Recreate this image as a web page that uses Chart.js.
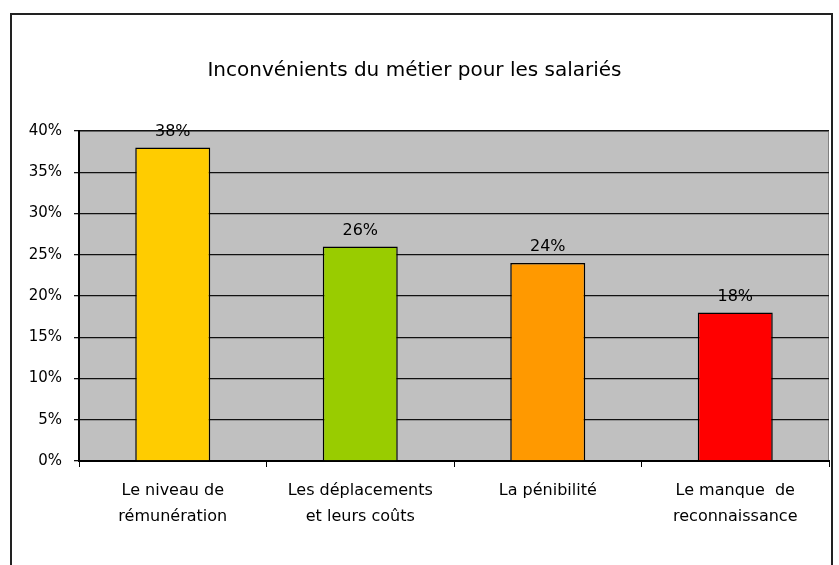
<!DOCTYPE html>
<html>
<head>
<meta charset="utf-8">
<script src="https://cdn.jsdelivr.net/npm/chart.js@4/dist/chart.umd.min.js"></script>
<style>
  html, body { margin: 0; padding: 0; background: #fff; }
  #wrap { width: 839px; height: 565px; }
</style>
</head>
<body>
<div id="wrap"><canvas id="myChart" width="839" height="565"></canvas></div>
<script>
// Chart data
var titleText = 'Inconvénients du métier pour les salariés';
var categories = [
    ['Le niveau de', 'rémunération'],
    ['Les déplacements', 'et leurs coûts'],
    ['La pénibilité'],
    ['Le manque  de', 'reconnaissance']
];
var values = [38, 26, 24, 18];
var barColors = ['#FFCC00', '#99CC00', '#FF9900', '#FF0000'];
var yTicks = [0, 5, 10, 15, 20, 25, 30, 35, 40];

var fontFamily = '"DejaVu Sans", sans-serif';

// Outer frame + grey plot area
var framePlugin = {
    id: 'frame',
    beforeDraw: function(chart) {
        var ctx = chart.ctx;
        var a = chart.chartArea;
        ctx.save();
        ctx.fillStyle = '#fff';
        ctx.fillRect(0, 0, chart.width, chart.height);
        ctx.strokeStyle = '#222';
        ctx.lineWidth = 2;
        ctx.strokeRect(11, 14, 821, 600);
        ctx.fillStyle = '#C0C0C0';
        ctx.fillRect(a.left, a.top, a.right - a.left, a.bottom - a.top);
        ctx.strokeStyle = '#808080';
        ctx.lineWidth = 1;
        ctx.strokeRect(a.left + 0.5, a.top + 0.5, a.right - a.left - 1, a.bottom - a.top - 1);
        ctx.restore();
    }
};

// Value labels above the bars
var valueLabels = {
    id: 'valueLabels',
    afterDatasetsDraw: function(chart) {
        var ctx = chart.ctx;
        var meta = chart.getDatasetMeta(0);
        ctx.save();
        ctx.font = '16px ' + fontFamily;
        ctx.fillStyle = '#000';
        ctx.textAlign = 'center';
        ctx.textBaseline = 'alphabetic';
        meta.data.forEach(function(bar, i) {
            ctx.fillText(values[i] + '%', bar.x, bar.y - 12);
        });
        ctx.restore();
    }
};

var ctx = document.getElementById('myChart').getContext('2d');

var config = {
    type: 'bar',
    data: {
        labels: categories,
        datasets: [{
            data: values,
            backgroundColor: barColors,
            borderColor: '#000',
            borderWidth: 1.5,
            categoryPercentage: 0.4,
            barPercentage: 1
        }]
    },
    options: {
        responsive: false,
        animation: false,
        layout: {
            padding: { left: 0, right: 10, top: 0, bottom: 0 }
        },
        plugins: {
            legend: { display: false },
            tooltip: { enabled: false },
            title: {
                display: true,
                text: titleText,
                color: '#000',
                font: { family: fontFamily, size: 20, weight: 'normal', lineHeight: 1.2 },
                padding: { top: 59, bottom: 48 }
            }
        },
        scales: {
            x: {
                afterFit: function(scale) { scale.height = 104; },
                grid: {
                    offset: true,
                    drawOnChartArea: false,
                    drawTicks: true,
                    tickLength: 6,
                    color: '#000',
                    lineWidth: 1
                },
                border: { color: '#000', width: 2 },
                ticks: {
                    color: '#000',
                    padding: 11,
                    maxRotation: 0,
                    font: { family: fontFamily, size: 16, lineHeight: 1.63 }
                }
            },
            y: {
                min: 0,
                max: 40,
                afterFit: function(scale) { scale.width = 79; },
                afterBuildTicks: function(scale) {
                    scale.ticks = yTicks.map(function(v) { return { value: v }; });
                },
                grid: {
                    color: '#111',
                    lineWidth: 1.3,
                    drawTicks: true,
                    tickLength: 5
                },
                border: { color: '#000', width: 2 },
                ticks: {
                    color: '#000',
                    padding: 12,
                    font: { family: fontFamily, size: 15 },
                    callback: function(v) { return v + '%'; }
                }
            }
        }
    },
    plugins: [framePlugin, valueLabels]
};

var myChart = new Chart(ctx, config);
</script>
</body>
</html>
